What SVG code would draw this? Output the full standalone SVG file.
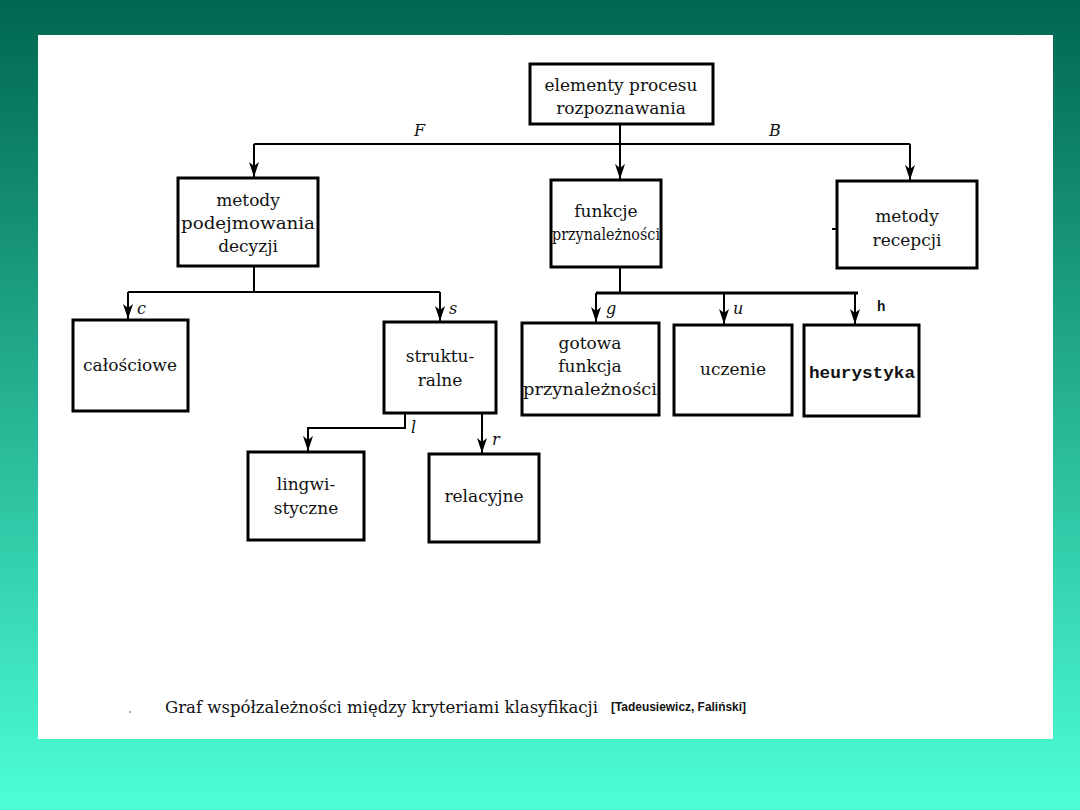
<svg xmlns="http://www.w3.org/2000/svg" width="1080" height="810" viewBox="0 0 1080 810">
<defs>
<linearGradient id="bg" x1="0" y1="0" x2="0" y2="1">
<stop offset="0" stop-color="#006650"/>
<stop offset="1" stop-color="#4cffd6"/>
</linearGradient>
<marker id="ah" markerWidth="16" markerHeight="12" refX="15" refY="5.5" orient="auto" markerUnits="userSpaceOnUse" viewBox="0 0 16 12">
<path d="M0,0.5 L4,5.5 L0,10.5 L15,5.5 Z" fill="#000"/>
</marker>
<style>
.box{fill:#fff;stroke:#000;stroke-width:3}
.t{font-family:"DejaVu Serif","Liberation Serif",serif;font-size:17px;fill:#111;text-anchor:middle}
.lab{font-family:"DejaVu Serif","Liberation Serif",serif;font-size:16px;font-style:italic;fill:#111}
.mono{font-family:"Liberation Mono","DejaVu Sans Mono",monospace;font-weight:bold;fill:#111}
.ln{fill:none;stroke:#000;stroke-width:2}
.ar{fill:none;stroke:#000;stroke-width:2;marker-end:url(#ah)}
</style>
</defs>
<rect x="0" y="0" width="1080" height="810" fill="url(#bg)"/>
<rect x="38" y="35" width="1015" height="704" fill="#fff"/>

<g id="n-root">
<rect class="box" x="530" y="64" width="183" height="60"/>
<text class="t" x="621" y="91">elementy procesu</text>
<text class="t" x="621" y="114">rozpoznawania</text>
</g>
<g id="n-decyzje">
<rect class="box" x="178" y="178" width="140" height="88"/>
<text class="t" x="248" y="206">metody</text>
<text class="t" x="248" y="229" textLength="134" lengthAdjust="spacingAndGlyphs">podejmowania</text>
<text class="t" x="248" y="252">decyzji</text>
</g>
<g id="n-funkcje">
<rect class="box" x="551" y="180" width="110" height="87"/>
<text class="t" x="606" y="217">funkcje</text>
<text class="t" x="606" y="240" textLength="108" lengthAdjust="spacingAndGlyphs">przynależności</text>
</g>
<g id="n-recepcja">
<rect class="box" x="837" y="181" width="140" height="87"/>
<text class="t" x="907" y="222">metody</text>
<text class="t" x="907" y="246">recepcji</text>
</g>
<g id="n-calosciowe">
<rect class="box" x="73" y="320" width="115" height="91"/>
<text class="t" x="130" y="371">całościowe</text>
</g>
<g id="n-strukturalne">
<rect class="box" x="384" y="322" width="112" height="91"/>
<text class="t" x="440" y="362">struktu-</text>
<text class="t" x="440" y="386">ralne</text>
</g>
<g id="n-gotowa">
<rect class="box" x="522" y="323" width="137" height="92"/>
<text class="t" x="590" y="349">gotowa</text>
<text class="t" x="590" y="372">funkcja</text>
<text class="t" x="590" y="395" textLength="134" lengthAdjust="spacingAndGlyphs">przynależności</text>
</g>
<g id="n-uczenie">
<rect class="box" x="674" y="325" width="118" height="90"/>
<text class="t" x="733" y="375">uczenie</text>
</g>
<g id="n-heurystyka">
<rect class="box" x="804" y="325" width="115" height="91"/>
<text class="mono" x="862" y="378" text-anchor="middle" font-size="17" textLength="106" lengthAdjust="spacingAndGlyphs">heurystyka</text>
</g>
<g id="n-lingwistyczne">
<rect class="box" x="248" y="452" width="116" height="88"/>
<text class="t" x="306" y="490">lingwi-</text>
<text class="t" x="306" y="514">styczne</text>
</g>
<g id="n-relacyjne">
<rect class="box" x="429" y="454" width="110" height="88"/>
<text class="t" x="484" y="502">relacyjne</text>
</g>

<g id="connectors">
<path class="ln" d="M620,125 V144"/>
<path class="ln" d="M254,144 H910"/>
<path class="ar" d="M254,144 V177"/>
<path class="ar" d="M620,144 V179"/>
<path class="ar" d="M910,144 V180"/>
<path class="ln" d="M254,267 V292 M128,292 H440"/>
<path class="ar" d="M128,292 V319"/>
<path class="ar" d="M440,292 V321"/>
<path class="ln" d="M620,268 V293"/>
<path class="ln" style="stroke-width:3" d="M596,293 H858"/>
<path class="ar" d="M596,293 V322"/>
<path class="ar" d="M724,293 V324"/>
<path class="ar" d="M855,293 V324"/>
<path class="ln" d="M405,414 V428 H308"/>
<path class="ar" d="M308,427 V451"/>
<path class="ar" d="M482,414 V453"/>
<path class="ln" d="M832,229 H837"/>
</g>

<g id="labels">
<text class="lab" x="414" y="136">F</text>
<text class="lab" x="769" y="136">B</text>
<text class="lab" x="137" y="314">c</text>
<text class="lab" x="449" y="314">s</text>
<text class="lab" x="606" y="314">g</text>
<text class="lab" x="733" y="314">u</text>
<text class="mono" x="877" y="311" font-size="14">h</text>
<text class="lab" x="411" y="433">l</text>
<text class="lab" x="492" y="445">r</text>
</g>

<g id="caption">
<circle cx="130" cy="712" r="0.8" fill="#555"/>
<text x="165" y="713" font-family="DejaVu Serif, Liberation Serif, serif" font-size="16" fill="#111" textLength="433" lengthAdjust="spacingAndGlyphs">Graf współzależności między kryteriami klasyfikacji</text>
<text x="611" y="711" font-family="Liberation Sans Narrow, Liberation Sans, sans-serif" font-weight="bold" font-size="13" fill="#111" textLength="135" lengthAdjust="spacingAndGlyphs">[Tadeusiewicz, Faliński]</text>
</g>
</svg>
